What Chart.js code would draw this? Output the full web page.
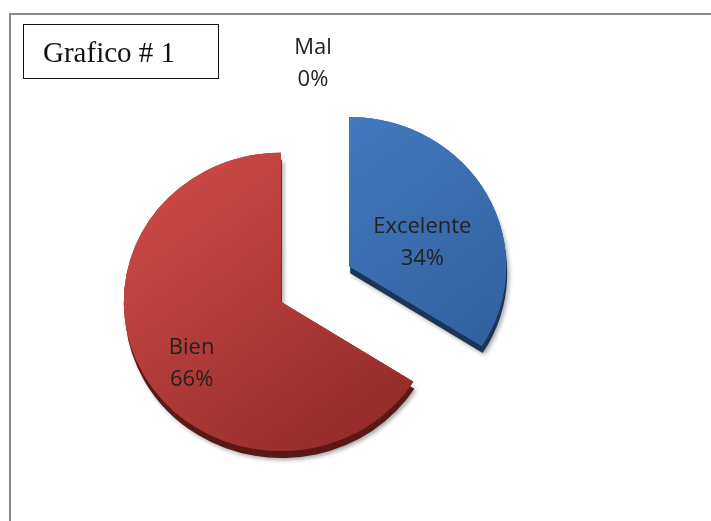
<!DOCTYPE html>
<html>
<head>
<meta charset="utf-8">
<script src="https://cdn.jsdelivr.net/npm/chart.js@4"></script>
<style>
  html, body { margin: 0; padding: 0; background: #fff; }
  #wrap { position: relative; width: 711px; height: 521px; overflow: hidden; }
  #frame { position: absolute; left: 9px; top: 13px; width: 720px; height: 540px;
    border-top: 2px solid #8a8a8a; border-left: 2px solid #8a8a8a; }
  #title { position: absolute; left: 23px; top: 24px; width: 196px; height: 55px;
    border: 1px solid #111; box-sizing: border-box; font-family: "Liberation Serif", serif;
    font-size: 29px; color: #111; padding-left: 19px; line-height: 55px; }
  canvas { position: absolute; left: 0; top: 0; }
</style>
</head>
<body>
<div id="wrap">
  <div id="frame"></div>
  <canvas id="pieChart" width="711" height="521"></canvas>
  <div id="title">Grafico # 1</div>
</div>
<script>
const labels = ['Excelente', 'Bien', 'Mal'];
const values = [34, 66, 0];

const topColors = ['#4a82c9', '#d24d49', '#9bbb59'];
const bottomColors = ['#2f5e9c', '#922a28', '#6f8a3c'];
const rimColors = ['#1b3558', '#5a1816', '#4a5e26'];

const pieRadius = 157;
const explode = 39;   // px each slice is pulled out
const squash = 0.95;  // 3D tilt of the pie

function sliceGradient(context) {
  const chart = context.chart;
  const a = chart.chartArea;
  if (!a) return topColors[context.dataIndex];
  const cx = (a.left + a.right) / 2;
  const cy = (a.top + a.bottom) / 2;
  const r = pieRadius;
  const g = chart.ctx.createLinearGradient(cx - r, cy - r, cx + r * 0.6, cy + r);
  g.addColorStop(0, topColors[context.dataIndex]);
  g.addColorStop(1, bottomColors[context.dataIndex]);
  return g;
}

function midAngle(arc) {
  return (arc.startAngle + arc.endAngle) / 2;
}

const tiltPlugin = {
  id: 'tilt',
  beforeDatasetsDraw(chart) {
    const ctx = chart.ctx;
    const a = chart.chartArea;
    const cy = (a.top + a.bottom) / 2;
    ctx.save();
    ctx.translate(0, cy);
    ctx.scale(1, squash);
    ctx.translate(0, -cy);
    const arcs = chart.getDatasetMeta(0).data;
    // soft drop shadow, then dark side, then the faces
    arcs.forEach((arc) => {
      const m = midAngle(arc);
      ctx.save();
      ctx.translate(Math.cos(m) * explode, Math.sin(m) * explode);
      ctx.shadowColor = 'rgba(0,0,0,0.35)';
      ctx.shadowOffsetX = 3;
      ctx.shadowOffsetY = 9;
      ctx.shadowBlur = 4;
      arc.draw(ctx);
      ctx.restore();
    });
    arcs.forEach((arc, i) => {
      const m = midAngle(arc);
      ctx.save();
      ctx.translate(Math.cos(m) * explode, Math.sin(m) * explode);
      ctx.shadowColor = rimColors[i];
      ctx.shadowOffsetX = 1;
      ctx.shadowOffsetY = 7;
      ctx.shadowBlur = 0;
      arc.draw(ctx);
      ctx.restore();
    });
    arcs.forEach((arc) => {
      const m = midAngle(arc);
      ctx.save();
      ctx.translate(Math.cos(m) * explode, Math.sin(m) * explode);
      arc.draw(ctx);
      ctx.restore();
    });
    ctx.restore();
    return false;
  },
  afterDraw(chart) {
    const ctx = chart.ctx;
    const a = chart.chartArea;
    const cy = (a.top + a.bottom) / 2;
    ctx.save();
    ctx.font = '22px "Open Sans", sans-serif';
    ctx.fillStyle = '#222';
    ctx.textAlign = 'center';
    ctx.textBaseline = 'middle';
    const total = values.reduce((s, v) => s + v, 0);
    chart.getDatasetMeta(0).data.forEach((arc, i) => {
      const m = midAngle(arc);
      const zero = values[i] === 0;
      const f = zero ? 1.48 : 0.59;
      const d = (zero ? 0 : explode) + arc.outerRadius * f;
      const x = arc.x + Math.cos(m) * d + (zero ? -2 : -8);
      let y = arc.y + Math.sin(m) * d;
      y = cy + (y - cy) * squash + (zero ? 0 : 19);
      const pct = Math.round(values[i] / total * 100) + '%';
      ctx.fillText(labels[i], x, y - 16);
      ctx.fillText(pct, x, y + 16);
    });
    ctx.restore();
  }
};

new Chart(document.getElementById('pieChart'), {
  type: 'pie',
  data: {
    labels: labels,
    datasets: [{
      data: values,
      backgroundColor: sliceGradient,
      borderWidth: 0,
      hoverOffset: 0
    }]
  },
  options: {
    responsive: false,
    animation: false,
    radius: pieRadius,
    layout: { padding: { left: 0, right: 81, top: 47, bottom: 0 } },
    plugins: {
      legend: { display: false },
      tooltip: { enabled: false }
    }
  },
  plugins: [tiltPlugin]
});
</script>
</body>
</html>
